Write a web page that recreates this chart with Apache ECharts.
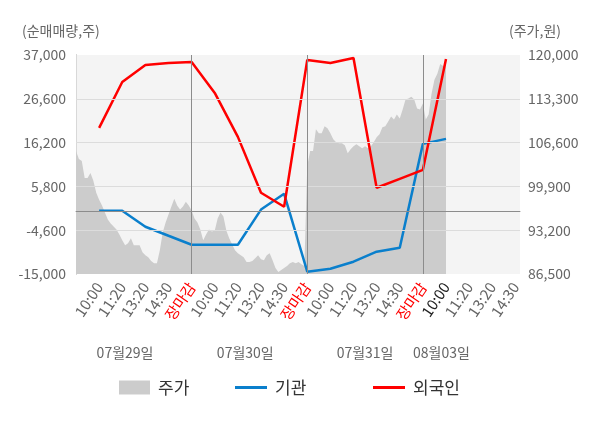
<!DOCTYPE html>
<html>
<head>
    <meta charset="utf-8" />
    <title>순매매량 차트</title>
    <script src="https://cdn.jsdelivr.net/npm/echarts@6/dist/echarts.min.js"></script>
    <style>
        html, body { margin: 0; padding: 0; background: #fff; }
    </style>
</head>
<body>
<div id="container" style="width: 600px; height: 428px;"></div>

<script type="text/javascript">
    // x-axis tick labels (index 1..19)
    var xLabels = ['10:00', '11:20', '13:20', '14:30', '장마감',
                   '10:00', '11:20', '13:20', '14:30', '장마감',
                   '10:00', '11:20', '13:20', '14:30', '장마감',
                   '10:00', '11:20', '13:20', '14:30'];
    var dateLabels = ['07월29일', '07월30일', '07월31일', '08월03일'];
    var datePos = [2.12, 7.32, 12.5, 15.8];

    var leftTicks = [-15000, -4600, 5800, 16200, 26600, 37000];
    var rightTicks = [86500, 93200, 99900, 106600, 113300, 120000];

    // net buying, at tick indices 1..16
    var lineIdx = [1, 2, 3, 4, 5, 6, 7, 8, 9, 10, 11, 12, 13, 14, 15, 16];
    var institution = [0, 0, -3780, -5920, -8050, -8050, -8050, 300, 4040,
                       -14450, -13740, -12080, -9710, -8760, 15900, 17080];
    var foreign = [19690, 30600, 34630, 35100, 35340, 27990, 17560, 4280, 960,
                   35820, 35100, 36290, 5470, 7600, 9730, 36050];

    // stock price, 8 samples per tick interval
    var priceDay1 = [105300, 104080, 103780, 101200, 101200, 101960, 100750, 98930,
                     97870, 96960, 95900, 94830, 94230, 93770, 93320, 92560,
                     91650, 90890, 91200, 91950, 90890, 90890, 90890, 89830,
                     89380, 89070, 88470, 88160, 88160, 90140, 92860, 94380,
                     95590, 96810, 98020, 96960, 96350, 96810, 97560, 96960];
    var priceDay2 = [96200, 94990, 94380, 93320, 91650, 92560, 93320, 93020,
                     93170, 94990, 95900, 95290, 93170, 91950, 91040, 90140,
                     89680, 89380, 89070, 88320, 88320, 88470, 88920, 89380,
                     88770, 88620, 89380, 89680, 88620, 87410, 86800, 87100,
                     87410, 87710, 88160, 88320, 88160, 88320, 88010, 87710];
    var priceDay3 = [103020, 105300, 105300, 108630, 108020, 108020, 109090, 108780,
                     108020, 107110, 106660, 106510, 106510, 106200, 104990, 105600,
                     106050, 106360, 106050, 105750, 106050, 105750, 106050, 106660,
                     107420, 107870, 108930, 109090, 109840, 110600, 110150, 110900,
                     110300, 111660, 113180, 113330, 113630, 113180, 111810, 111660];
    var priceDay4 = [112570, 110150, 110900, 114090, 116210, 117120, 118640, 118330, 118640];

    var priceDays = [priceDay1, priceDay2, priceDay3, priceDay4];
    var priceData = [];
    priceDays.forEach(function (day, d) {
        day.forEach(function (p, k) {
            priceData.push([d * 5 + k / 8, p]);
        });
    });
    var instData = lineIdx.map(function (x, i) { return [x, institution[i]]; });
    var foreignData = lineIdx.map(function (x, i) { return [x, foreign[i]]; });

    var font = 'Noto Sans CJK KR';
    var chart = echarts.init(document.getElementById('container'));

    var gridLines = leftTicks.slice(1, 5).map(function (v) {
        return { yAxis: v, lineStyle: { color: '#dcdcdc', width: 1, type: 'solid' } };
    });
    gridLines.push({ yAxis: 0, lineStyle: { color: '#8c8c8c', width: 1, type: 'solid' } });
    [5, 10, 15].forEach(function (v) {
        gridLines.push({ xAxis: v, lineStyle: { color: '#8c8c8c', width: 1, type: 'solid' } });
    });

    var legendText = { fontSize: 17, color: '#333', fontFamily: font, padding: [0, 0, 0, 3] };

    chart.setOption({
        animation: false,
        textStyle: { fontFamily: font },
        grid: {
            left: 76, right: 80, top: 55, bottom: 154,
            show: true, backgroundColor: '#f4f4f4', borderWidth: 0
        },
        legend: [
            { left: 114, top: 374, itemWidth: 31, itemHeight: 14, selectedMode: false,
              textStyle: legendText, data: [{ name: '주가', icon: 'rect' }] },
            { left: 230, top: 374, itemWidth: 32, itemHeight: 3, selectedMode: false,
              textStyle: legendText, data: [{ name: '기관', icon: 'rect' }] },
            { left: 368, top: 374, itemWidth: 32, itemHeight: 3, selectedMode: false,
              textStyle: legendText, data: [{ name: '외국인', icon: 'rect' }] }
        ],
        graphic: [
            { type: 'text', left: 22, top: 24,
              style: { text: '(순매매량,주)', fill: '#666', fontSize: 14, fontFamily: font } },
            { type: 'text', left: 509, top: 24,
              style: { text: '(주가,원)', fill: '#666', fontSize: 14, fontFamily: font } }
        ],
        xAxis: [{
            type: 'value', min: 0, max: 19.2,
            axisLine: { show: true, lineStyle: { color: '#999' } },
            axisTick: { show: true, length: 5, lineStyle: { color: '#999' }, customValues: [0, 5, 10, 15] },
            splitLine: { show: false },
            axisLabel: {
                rotate: 56, fontSize: 15, color: '#666', margin: 10,
                customValues: lineIdx.concat([17, 18, 19]),
                formatter: function (v) {
                    var t = xLabels[Math.round(v) - 1] || '';
                    if (t === '장마감') return '{r|' + t + '}';
                    if (Math.round(v) === 16) return '{k|' + t + '}';
                    return t;
                },
                rich: {
                    r: { color: '#ff0000', fontSize: 15, fontFamily: font },
                    k: { color: '#222', fontSize: 15, fontFamily: font }
                }
            }
        }, {
            type: 'value', min: 0, max: 19.2, position: 'bottom', offset: 64,
            axisLine: { show: false }, axisTick: { show: false }, splitLine: { show: false },
            axisLabel: {
                fontSize: 14, color: '#666', margin: 8,
                customValues: datePos,
                formatter: function (v) {
                    for (var i = 0; i < datePos.length; i++) {
                        if (Math.abs(datePos[i] - v) < 0.01) return dateLabels[i];
                    }
                    return '';
                }
            }
        }],
        yAxis: [{
            type: 'value', min: -15000, max: 37000,
            axisLine: { show: true, lineStyle: { color: '#999' } },
            axisTick: { show: false }, splitLine: { show: false },
            axisLabel: {
                customValues: leftTicks, fontSize: 14, color: '#666', margin: 10,
                formatter: function (v) { return v.toLocaleString('en-US'); }
            }
        }, {
            type: 'value', min: 86500, max: 120000, position: 'right',
            axisLine: { show: true, lineStyle: { color: '#d8d8d8' } },
            axisTick: { show: false }, splitLine: { show: false },
            axisLabel: {
                customValues: rightTicks, fontSize: 14, color: '#666', margin: 8,
                formatter: function (v) { return v.toLocaleString('en-US'); }
            }
        }],
        series: [{
            name: '주가', type: 'line', xAxisIndex: 0, yAxisIndex: 1,
            data: priceData, symbol: 'none', z: 1, color: '#cccccc',
            lineStyle: { width: 0 },
            areaStyle: { color: '#cccccc', opacity: 1, origin: 'start' }
        }, {
            name: 'grid', type: 'line', xAxisIndex: 0, yAxisIndex: 0,
            data: [], symbol: 'none', z: 2,
            markLine: { silent: true, symbol: 'none', label: { show: false }, data: gridLines }
        }, {
            name: '기관', type: 'line', xAxisIndex: 0, yAxisIndex: 0,
            data: instData, symbol: 'none', z: 3, color: '#0a7fcc',
            lineStyle: { width: 2.5, color: '#0a7fcc' }
        }, {
            name: '외국인', type: 'line', xAxisIndex: 0, yAxisIndex: 0,
            data: foreignData, symbol: 'none', z: 4, color: '#ff0000',
            lineStyle: { width: 2.5, color: '#ff0000' }
        }]
    });
</script>
</body>
</html>
